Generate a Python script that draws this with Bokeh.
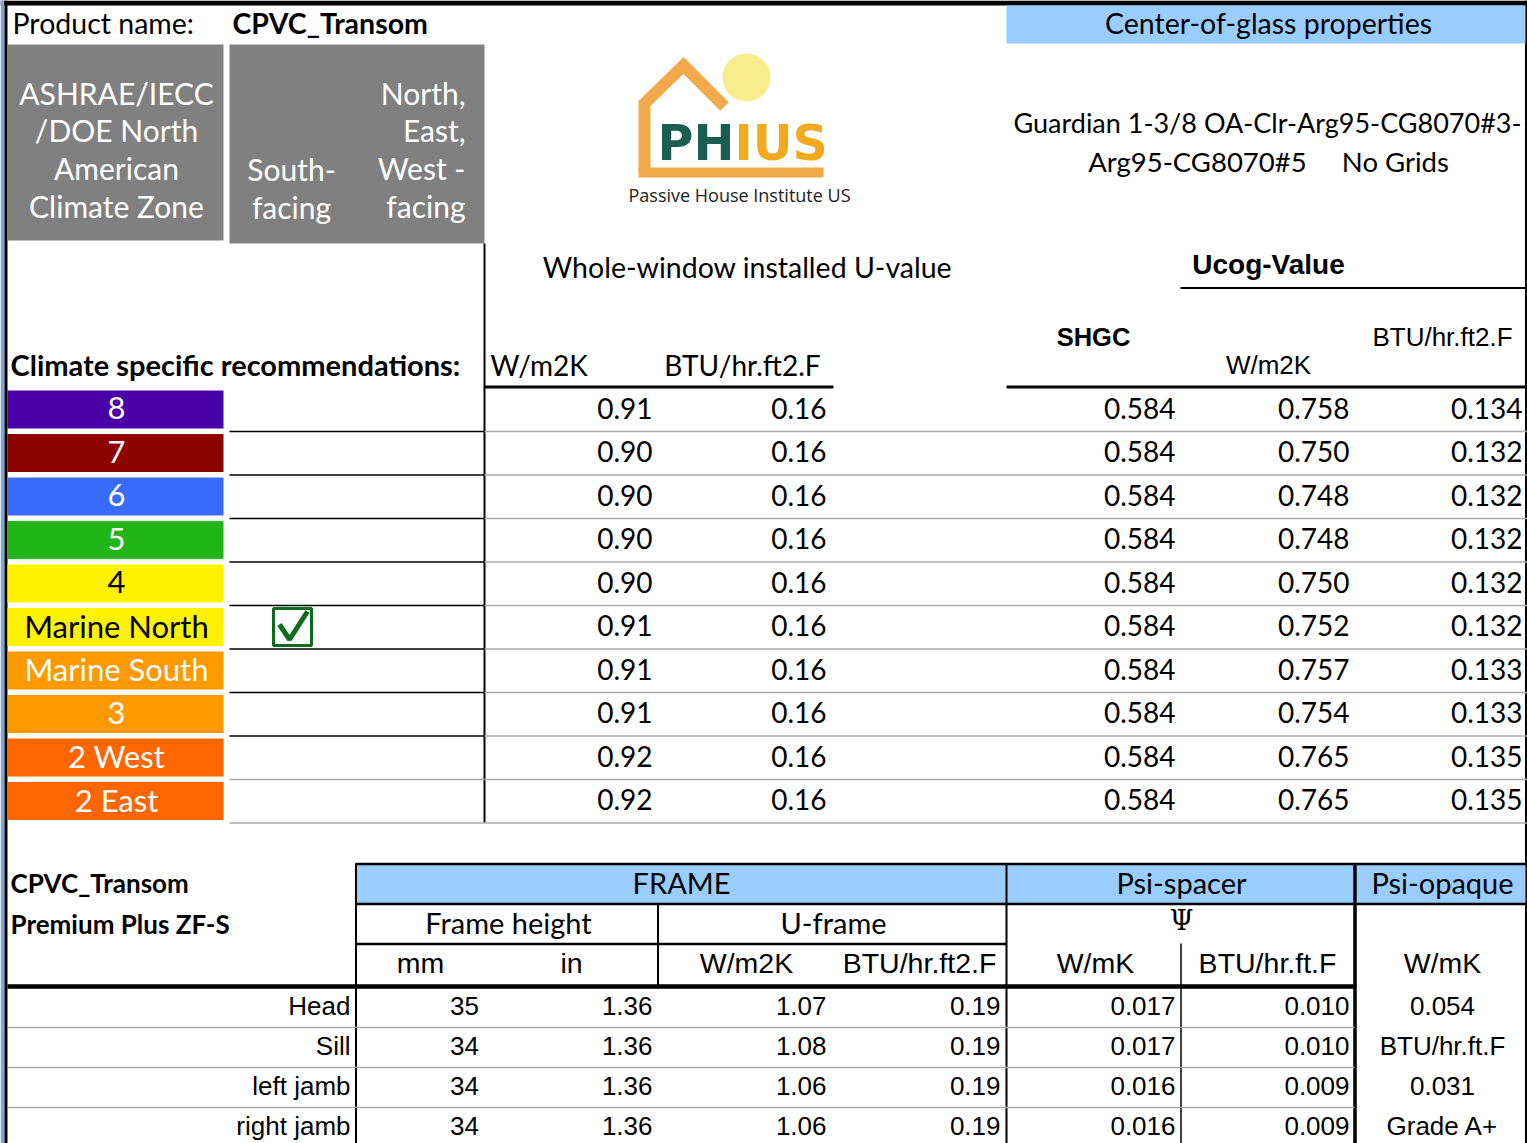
from bokeh.plotting import figure
from bokeh.models import Range1d
from bokeh.core.properties import value
from bokeh.embed import file_html
from bokeh.resources import INLINE

# ---------------- data ----------------
product_name = "CPVC_Transom"
product_line = "Premium Plus ZF-S"
glazing = ["Guardian 1-3/8 OA-Clr-Arg95-CG8070#3-",
           "Arg95-CG8070#5\u00a0\u00a0\u00a0\u00a0\u00a0No Grids"]

zones = ["8", "7", "6", "5", "4", "Marine North", "Marine South", "3", "2 West", "2 East"]
zone_colors = ["#4A00A8", "#8C0000", "#3A6BFF", "#22B517", "#FFF200", "#FFF200",
               "#FF9900", "#FF9900", "#FF6600", "#FF6600"]
zone_text_colors = ["white", "white", "white", "white", "black", "black",
                    "white", "white", "white", "white"]
recommended = [False, False, False, False, False, True, False, False, False, False]

uw_si = [0.91, 0.90, 0.90, 0.90, 0.90, 0.91, 0.91, 0.91, 0.92, 0.92]
uw_ip = [0.16, 0.16, 0.16, 0.16, 0.16, 0.16, 0.16, 0.16, 0.16, 0.16]
shgc = [0.584, 0.584, 0.584, 0.584, 0.584, 0.584, 0.584, 0.584, 0.584, 0.584]
ucog_si = [0.758, 0.750, 0.748, 0.748, 0.750, 0.752, 0.757, 0.754, 0.765, 0.765]
ucog_ip = [0.134, 0.132, 0.132, 0.132, 0.132, 0.132, 0.133, 0.133, 0.135, 0.135]

frame_parts = ["Head", "Sill", "left jamb", "right jamb"]
frame_h_mm = [35, 34, 34, 34]
frame_h_in = [1.36, 1.36, 1.36, 1.36]
uf_si = [1.07, 1.08, 1.06, 1.06]
uf_ip = [0.19, 0.19, 0.19, 0.19]
psi_sp_si = [0.017, 0.017, 0.016, 0.016]
psi_sp_ip = [0.010, 0.010, 0.009, 0.009]
psi_opaque = ["0.054", "BTU/hr.ft.F", "0.031", "Grade A+"]

# ---------------- figure ----------------
W, H = 1527, 1143
p = figure(width=W, height=H, x_range=Range1d(0, W), y_range=Range1d(H, 0),
           output_backend="svg", toolbar_location=None, min_border=0)
p.axis.visible = False
p.grid.visible = False
p.outline_line_color = None
p.background_fill_color = "white"
p.border_fill_color = "white"

CAL = "Lato"
ARI = "Liberation Sans"
DY = -2  # vertical text correction


def txt(x, y, s, size, font=CAL, color="black", align="left", bold=False, baseline="middle"):
    p.text(x=[x], y=[y + DY], text=[s], text_font=value(font), text_font_size=f"{size}px",
           text_color=color, text_align=align, text_baseline=baseline,
           text_font_style="bold" if bold else "normal")


def box(l, r, t, b, color):
    p.quad(left=[l], right=[r], top=[t], bottom=[b], fill_color=color, line_color=None)


def hline(x0, x1, y, w=1, color="black"):
    p.segment(x0=[x0], y0=[y], x1=[x1], y1=[y], line_color=color, line_width=w)


def vline(x, y0, y1, w=1, color="black"):
    p.segment(x0=[x], y0=[y0], x1=[x], y1=[y1], line_color=color, line_width=w)


# frame borders
box(0, W, 0, 5, "black")
box(0, 4, 0, H, "#7FA6D8")
box(4, 7, 0, H, "black")
vline(1525.5, 0, H, 2)

# top row
txt(12, 24, "Product name:", 28.5)
txt(232, 24, product_name, 28.5, bold=True)
box(1006, 1525, 5, 43, "#99CCFF")
txt(1268, 24, "Center-of-glass properties", 28.5, align="center")

# gray header boxes
GRAY = "#808080"
box(7, 223, 44, 240, GRAY)
box(229, 484, 44, 243, GRAY)
for i, s in enumerate(["ASHRAE/IECC", "/DOE North", "American", "Climate Zone"]):
    txt(116, 94 + 37.7 * i, s, 30, color="white", align="center")
txt(291, 170, "South-", 30, color="white", align="center")
txt(291, 208, "facing", 30, color="white", align="center")
for i, s in enumerate(["North,", "East,", "West -", "facing"]):
    txt(465, 94 + 37.7 * i, s, 30, color="white", align="right")

# logo
p.circle(x=[746], y=[77], radius=24, fill_color="#F8EC8C", line_color=None)
p.line(x=[644, 644, 683, 724], y=[172, 103, 65, 106], line_color="#F2A94A", line_width=12,
       line_join="miter")
p.line(x=[638, 823], y=[172, 172], line_color="#F2A94A", line_width=10)
txt(734, 145, "PH", 49, font="DejaVu Sans", color="#1B5E4F", align="right", bold=True)
txt(734, 145, "IUS", 49, font="DejaVu Sans", color="#F2A91E", align="left", bold=True)
txt(739, 196, "Passive House Institute US", 18, font="Open Sans", color="#222222",
    align="center")

# glazing description
txt(1013, 124, glazing[0], 27)
txt(1268, 163, glazing[1], 27.5, align="center")

# column headers
txt(10, 366, "Climate specific recommendations:", 29, bold=True)
vline(484, 243, 822, 2)
txt(747, 268, "Whole-window installed U-value", 28.5, align="center")
txt(490, 366, "W/m2K", 28)
txt(742, 366, "BTU/hr.ft2.F", 28, align="center")
hline(484, 833, 386.5, 3)
txt(1268, 266, "Ucog-Value", 28, font=ARI, bold=True, align="center")
hline(1180, W, 287.5, 2)
txt(1093, 338, "SHGC", 25.5, font=ARI, bold=True, align="center")
txt(1268, 366, "W/m2K", 26, font=ARI, align="center")
txt(1442, 338, "BTU/hr.ft2.F", 26, font=ARI, align="center")
hline(1006, W, 386.5, 3)

# climate rows
top0, rh = 387.5, 43.5
for i, z in enumerate(zones):
    t = top0 + rh * i
    b = t + rh
    c = t + rh / 2 + 0.5
    box(7, 223, t + 2.5, b - 3, zone_colors[i])
    txt(116, c, z, 31, color=zone_text_colors[i], align="center")
    lc = "black" if i < 8 else "#AAAAAA"
    hline(229, 484, b, 1.5, lc)
    hline(484, W, b, 1.5, "#AAAAAA")
    if recommended[i]:
        p.quad(left=[273], right=[311], top=[608], bottom=[645], fill_color=None,
               line_color="#0B6B1F", line_width=3)
        p.line(x=[279, 289, 307], y=[624, 639, 611], line_color="#0B6B1F", line_width=5)
    txt(652, c, f"{uw_si[i]:.2f}", 28, align="right")
    txt(826, c, f"{uw_ip[i]:.2f}", 28, align="right")
    txt(1175, c, f"{shgc[i]:.3f}", 28, align="right")
    txt(1349, c, f"{ucog_si[i]:.3f}", 28, align="right")
    txt(1522, c, f"{ucog_ip[i]:.3f}", 28, align="right")

# bottom frame table
txt(10, 884, product_name, 26, bold=True)
txt(10, 925, product_line, 26, bold=True)
box(356, 1006, 864, 903, "#99CCFF")
box(1006, 1353, 864, 903, "#99CCFF")
box(1356, 1525, 864, 903, "#99CCFF")
hline(355, W, 863.5, 2.5)
hline(355, 1354, 903.5, 2.5)
hline(1356, W, 903.5, 2.5)
txt(681, 884, "FRAME", 29, align="center")
txt(1181, 884, "Psi-spacer", 29, align="center")
txt(1442, 884, "Psi-opaque", 29, align="center")
txt(508, 924, "Frame height", 29, align="center")
txt(833, 924, "U-frame", 29, align="center")
txt(1181, 922, "\u03A8", 27, font="DejaVu Serif", align="center")
hline(356, 1006, 943.5, 2.5)
vline(657.5, 903, 986, 2)
txt(420, 964, "mm", 28.5, font=ARI, align="center")
txt(571, 964, "in", 28.5, font=ARI, align="center")
txt(746, 964, "W/m2K", 28.5, font=ARI, align="center")
txt(919, 964, "BTU/hr.ft2.F", 28.5, font=ARI, align="center")
txt(1095, 964, "W/mK", 28.5, font=ARI, align="center")
txt(1267, 964, "BTU/hr.ft.F", 28.5, font=ARI, align="center")
txt(1442, 964, "W/mK", 28.5, font=ARI, align="center")
vline(355.5, 863, H, 2)
vline(1006, 863, H, 2)
vline(1180.5, 943, H, 1.5)
vline(1354.5, 863, H, 3.5)
hline(7, 1356, 986, 4.5)

btop, bh = 987, 40
for i, part in enumerate(frame_parts):
    c = btop + bh * i + 20
    if i < 3:
        hline(7, 1354, btop + bh * (i + 1), 1.5, "#AAAAAA")
    txt(350, c, part, 26, font=ARI, align="right")
    txt(464, c, f"{frame_h_mm[i]}", 26, font=ARI, align="center")
    txt(652, c, f"{frame_h_in[i]:.2f}", 26, font=ARI, align="right")
    txt(826, c, f"{uf_si[i]:.2f}", 26, font=ARI, align="right")
    txt(1000, c, f"{uf_ip[i]:.2f}", 26, font=ARI, align="right")
    txt(1175, c, f"{psi_sp_si[i]:.3f}", 26, font=ARI, align="right")
    txt(1349, c, f"{psi_sp_ip[i]:.3f}", 26, font=ARI, align="right")
    txt(1442, c, psi_opaque[i], 26, font=ARI, align="center")

open("out.html", "w").write(file_html(p, INLINE))
